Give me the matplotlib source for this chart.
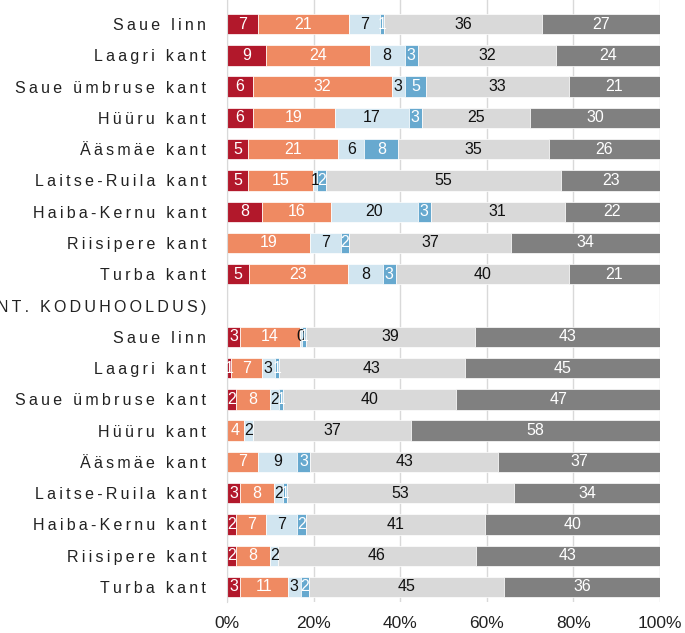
import matplotlib
matplotlib.use("Agg")
import matplotlib.pyplot as plt
import numpy as np

plt.rcParams["font.family"] = ["Liberation Sans", "DejaVu Sans"]

# rows top to bottom; the empty row is the group heading
labels = [
    "Saue linn", "Laagri kant", "Saue ümbruse kant", "Hüüru kant", "Ääsmäe kant",
    "Laitse-Ruila kant", "Haiba-Kernu kant", "Riisipere kant", "Turba kant",
    "HOOLDUSTEENUSED (NT. KODUHOOLDUS)",
    "Saue linn", "Laagri kant", "Saue ümbruse kant", "Hüüru kant", "Ääsmäe kant",
    "Laitse-Ruila kant", "Haiba-Kernu kant", "Riisipere kant", "Turba kant",
]
heading_row = 9

s1 = [7, 9, 6, 6, 5, 5, 8, 0, 5, None, 3, 1, 2, 0, 0, 3, 2, 2, 3]
s2 = [21, 24, 32, 19, 21, 15, 16, 19, 23, None, 14, 7, 8, 4, 7, 8, 7, 8, 11]
s3 = [7, 8, 3, 17, 6, 1, 20, 7, 8, None, 0.4, 3, 2, 2, 9, 2, 7, 2, 3]
s4 = [1, 3, 5, 3, 8, 2, 3, 2, 3, None, 1, 1, 1, 0, 3, 1, 2, 0, 2]
s5 = [36, 32, 33, 25, 35, 55, 31, 37, 40, None, 39, 43, 40, 37, 43, 53, 41, 46, 45]
s6 = [27, 24, 21, 30, 26, 23, 22, 34, 21, None, 43, 45, 47, 58, 37, 34, 40, 43, 36]

colors = ["#b2182b", "#ef8a62", "#d1e5f0", "#67a9cf", "#d9d9d9", "#808080"]
text_colors = ["white", "white", "#111111", "white", "#111111", "white"]


def spaced(s):
    return "\u2009".join(s)


series = [s1, s2, s3, s4, s5, s6]

fig, ax = plt.subplots(figsize=(6.85, 6.33), dpi=100)
fig.subplots_adjust(left=0.3314, right=0.9635, bottom=0.049, top=1.0)

for row in range(len(labels)):
    if row == heading_row:
        continue
    vals = np.array([s[row] for s in series], dtype=float)
    pct = vals / vals.sum() * 100
    left = 0.0
    for k, (v, p) in enumerate(zip(vals, pct)):
        if v > 0:
            ax.barh(row, p, left=left, height=0.65, color=colors[k],
                    edgecolor="white", linewidth=0.5, zorder=2)
            ax.text(left + p / 2, row, f"{v:.0f}", ha="center", va="center",
                    color=text_colors[k], fontsize=11.5, zorder=3)
        left += p

ax.set_xlim(0, 100)
ax.set_ylim(18.48, -0.77)
ax.set_xticks([0, 20, 40, 60, 80, 100])
ax.set_xticklabels(["0%", "20%", "40%", "60%", "80%", "100%"], fontsize=12.5, color="#222222")
ax.set_yticks(range(len(labels)))
ax.set_yticklabels([spaced(l) for l in labels], fontsize=11.5, color="#222222")
ax.tick_params(axis="y", length=0, pad=15)
ax.tick_params(axis="x", length=0, pad=10)
ax.xaxis.grid(True, color="#d9d9d9", linewidth=1)
ax.set_axisbelow(True)
for side in ["top", "right", "bottom"]:
    ax.spines[side].set_visible(False)
ax.spines["left"].set_color("#d9d9d9")

fig.savefig("out.png", dpi=100)
